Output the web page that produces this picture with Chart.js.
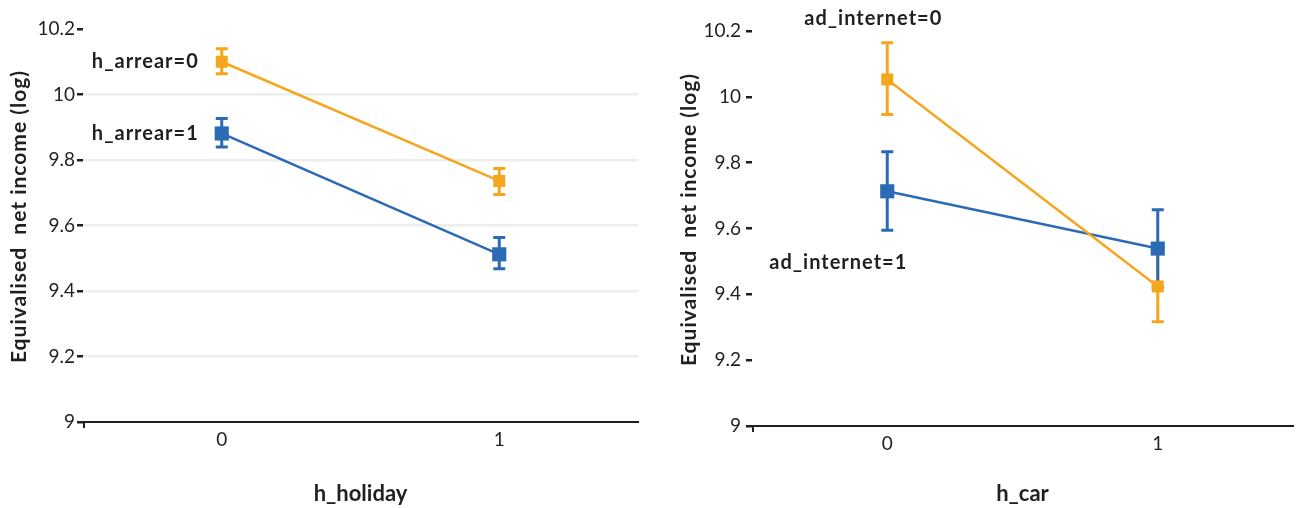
<!DOCTYPE html>
<html>
<head>
<meta charset="utf-8">
<script src="https://cdn.jsdelivr.net/npm/chart.js@4/dist/chart.umd.min.js"></script>
<style>
  html, body { margin: 0; padding: 0; background: #ffffff; }
  #wrap { position: relative; width: 1303px; height: 508px; overflow: hidden; }
  .panel { position: absolute; top: 0; height: 508px; }
  #p1 { left: 0; width: 650px; }
  #p2 { left: 660px; width: 643px; }
</style>
</head>
<body>
<div id="wrap">
  <div class="panel" id="p1"><canvas id="c1"></canvas></div>
  <div class="panel" id="p2"><canvas id="c2"></canvas></div>
</div>
<script>
// Shared categories and value axis ticks
const categories = [0, 1];
const yTicks = [9, 9.2, 9.4, 9.6, 9.8, 10, 10.2];

// Panel 1: h_holiday, split by h_arrear (mean with 95% CI)
const arrear0Mean = [10.100, 9.736];
const arrear0Low  = [10.063, 9.695];
const arrear0High = [10.140, 9.774];
const arrear1Mean = [9.881, 9.512];
const arrear1Low  = [9.840, 9.468];
const arrear1High = [9.927, 9.563];

// Panel 2: h_car, split by ad_internet
const internet0Mean = [10.053, 9.424];
const internet0Low  = [9.946, 9.317];
const internet0High = [10.164, 9.531];
const internet1Mean = [9.713, 9.539];
const internet1Low  = [9.595, 9.421];
const internet1High = [9.833, 9.657];

const ORANGE = '#F6A61E';
const BLUE = '#2B6BB5';
const INK = '#231F20';
const FONT = 'Lato, "Open Sans", sans-serif';

// Error bars with caps, drawn beneath lines and markers
const errorBars = {
  id: 'errorBars',
  beforeDatasetsDraw(chart) {
    const { ctx, scales: { x, y } } = chart;
    chart.data.datasets.forEach((ds) => {
      ds.data.forEach((pt, i) => {
        const px = x.getPixelForValue(pt.x);
        const yl = y.getPixelForValue(ds.low[i]);
        const yh = y.getPixelForValue(ds.high[i]);
        ctx.save();
        ctx.strokeStyle = ds.borderColor;
        ctx.lineWidth = 3;
        ctx.beginPath();
        ctx.moveTo(px, yl); ctx.lineTo(px, yh);
        ctx.moveTo(px - 6, yl); ctx.lineTo(px + 6, yl);
        ctx.moveTo(px - 6, yh); ctx.lineTo(px + 6, yh);
        ctx.stroke();
        ctx.restore();
      });
    });
  }
};

// Group labels anchored to a data point (mean, low or high) with a pixel offset
const groupLabels = {
  id: 'groupLabels',
  afterDatasetsDraw(chart, args, opts) {
    const { ctx, scales: { x, y } } = chart;
    (opts.items || []).forEach((it) => {
      const ds = chart.data.datasets[it.dataset];
      const v = it.anchor === 'low' ? ds.low[it.index]
              : it.anchor === 'high' ? ds.high[it.index]
              : ds.data[it.index].y;
      const px = x.getPixelForValue(ds.data[it.index].x) + it.dx;
      const py = y.getPixelForValue(v) + it.dy;
      ctx.save();
      ctx.font = 'bold 20px ' + FONT;
      ctx.letterSpacing = '1px';
      ctx.fillStyle = INK;
      ctx.textAlign = it.align;
      ctx.textBaseline = 'middle';
      ctx.fillText(it.text, px, py);
      ctx.restore();
    });
  }
};

// Rotated value-axis title and the small tick at the origin
const axisDecor = {
  id: 'axisDecor',
  afterDraw(chart, args, opts) {
    const { ctx, chartArea } = chart;
    ctx.save();
    ctx.strokeStyle = INK;
    ctx.lineWidth = 2;
    ctx.beginPath();
    ctx.moveTo(chartArea.left + 1, chartArea.bottom);
    ctx.lineTo(chartArea.left + 1, chartArea.bottom + 6);
    ctx.stroke();
    ctx.translate(opts.titleX, (chartArea.top + chartArea.bottom) / 2 + opts.titleShift);
    ctx.rotate(-Math.PI / 2);
    ctx.font = 'bold 21px ' + FONT;
    ctx.letterSpacing = '1px';
    ctx.fillStyle = INK;
    ctx.textAlign = 'center';
    ctx.textBaseline = 'middle';
    ctx.fillText(opts.title, 0, 0);
    ctx.restore();
  }
};

function series(mean, low, high, color, size) {
  return {
    data: categories.map((c, i) => ({ x: c, y: mean[i] })),
    low, high,
    borderColor: color,
    backgroundColor: color,
    borderWidth: 2.5,
    pointStyle: 'rect',
    pointRadius: size,
    pointHoverRadius: size,
    pointBorderWidth: 0,
    pointBackgroundColor: color,
    tension: 0
  };
}

function makeChart(id, cfg) {
  return new Chart(document.getElementById(id), {
    type: 'line',
    data: { datasets: cfg.datasets },
    plugins: [errorBars, groupLabels, axisDecor],
    options: {
      responsive: true,
      maintainAspectRatio: false,
      animation: false,
      layout: { padding: { top: cfg.top, right: cfg.right, bottom: 0, left: 0 } },
      plugins: {
        legend: { display: false },
        tooltip: { enabled: false },
        groupLabels: { items: cfg.labels },
        axisDecor: { title: 'Equivalised  net income (log)', titleX: cfg.titleX, titleShift: -9 }
      },
      scales: {
        x: {
          type: 'linear',
          min: -0.5, max: 1.5,
          afterBuildTicks: (s) => { s.ticks = categories.map((v) => ({ value: v })); },
          afterFit: (s) => { s.height = 508 - cfg.bottom; },
          ticks: { font: { family: FONT, size: 19 }, color: INK, padding: 6 },
          grid: { drawOnChartArea: false, drawTicks: false },
          border: { display: true, color: INK, width: 2 },
          title: {
            display: true, text: cfg.xTitle, color: INK,
            font: { family: FONT, size: 22, weight: 'bold' },
            padding: { top: 0, bottom: 1 }
          }
        },
        y: {
          type: 'linear',
          min: 9, max: 10.2,
          afterBuildTicks: (s) => { s.ticks = yTicks.map((v) => ({ value: v })); },
          afterFit: (s) => { s.width = cfg.left; },
          ticks: {
            font: { family: FONT, size: 19 }, color: INK, padding: cfg.tickPad,
            callback: (v) => String(Math.round(v * 10) / 10)
          },
          grid: {
            drawTicks: true, tickLength: 6, tickWidth: 2.5, tickColor: INK,
            lineWidth: 2.5,
            color: (c) => (cfg.grid && c.tick && c.tick.value > 9.05 && c.tick.value < 10.15) ? '#EDEDED' : 'rgba(0,0,0,0)'
          },
          border: { display: false }
        }
      }
    }
  });
}

makeChart('c1', {
  datasets: [
    series(arrear0Mean, arrear0Low, arrear0High, ORANGE, 8.5),
    series(arrear1Mean, arrear1Low, arrear1High, BLUE, 10)
  ],
  labels: [
    { text: 'h_arrear=0', dataset: 0, index: 0, anchor: 'mean', dx: -23, dy: 0, align: 'right' },
    { text: 'h_arrear=1', dataset: 1, index: 0, anchor: 'mean', dx: -23, dy: 0, align: 'right' }
  ],
  xTitle: 'h_holiday', grid: true,
  left: 83, right: 12, top: 29, bottom: 422, tickPad: 2, titleX: 19
});

makeChart('c2', {
  datasets: [
    series(internet0Mean, internet0Low, internet0High, ORANGE, 8.5),
    series(internet1Mean, internet1Low, internet1High, BLUE, 10)
  ],
  labels: [
    { text: 'ad_internet=0', dataset: 0, index: 0, anchor: 'high', dx: -14, dy: -24, align: 'center' },
    { text: 'ad_internet=1', dataset: 1, index: 0, anchor: 'low', dx: -49, dy: 32, align: 'center' }
  ],
  xTitle: 'h_car', grid: false,
  left: 92, right: 0, top: 31, bottom: 426, tickPad: 5, titleX: 29
});
</script>
</body>
</html>
